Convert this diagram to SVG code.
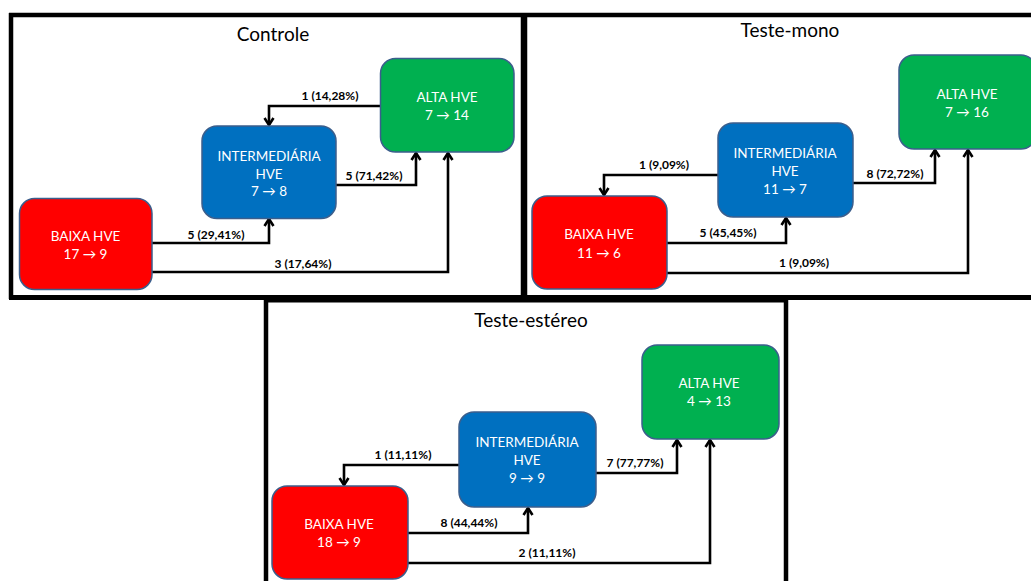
<svg xmlns="http://www.w3.org/2000/svg" width="1031" height="581" viewBox="0 0 1031 581">
<defs>
<marker id="arr" viewBox="0 0 12 12" refX="10" refY="6" markerWidth="12" markerHeight="12" markerUnits="userSpaceOnUse" orient="auto">
<path d="M3,1.5 L10,6 L3,10.5" fill="none" stroke="#000" stroke-width="2.6" stroke-linejoin="miter"/>
</marker>
</defs>
<style>
.frame{fill:none;stroke:#000}
.box{stroke:#3b5e8c;stroke-width:1.5}
.baixa{fill:#ff0000}
.inter{fill:#0070c0}
.alta{fill:#00b050}
.nt{font-family:Lato,"Liberation Sans",sans-serif;font-size:13.5px;fill:#fff;text-anchor:middle}
.title{font-family:Lato,"Liberation Sans",sans-serif;font-size:19px;fill:#000;text-anchor:middle}
.lbl{font-family:Lato,"Liberation Sans",sans-serif;font-size:12px;font-weight:bold;fill:#000;text-anchor:middle}
.con{fill:none;stroke:#000;stroke-width:2.6;marker-end:url(#arr)}
</style>
<rect width="1031" height="581" fill="#fff"/>
<g id="frames">
<path class="frame" d="M11,13 V299" stroke-width="4.5"/>
<path class="frame" d="M9,15 H1031" stroke-width="4.5"/>
<path class="frame" d="M9,297.5 H1031" stroke-width="5"/>
<path class="frame" d="M524,13 V300" stroke-width="6.5"/>
<path class="frame" d="M264,299.5 H788" stroke-width="6"/>
<path class="frame" d="M266,297 V581" stroke-width="4.5"/>
<path class="frame" d="M786,297 V581" stroke-width="4.5"/>
</g>
<g id="titles">
<text class="title" x="273" y="41">Controle</text>
<text class="title" x="790" y="37">Teste-mono</text>
<text class="title" x="531" y="327">Teste-estéreo</text>
</g>
<g id="connectors">
<path class="con" d="M380,106 H269 V125"/>
<path class="con" d="M336,185 H416 V153"/>
<path class="con" d="M152,243 H269 V219"/>
<path class="con" d="M152,272 H448 V153"/>
<path class="con" d="M718,175 H604 V195"/>
<path class="con" d="M853,183 H935 V150"/>
<path class="con" d="M667,243 H786 V218"/>
<path class="con" d="M667,273 H968 V150"/>
<path class="con" d="M459,465 H344 V485"/>
<path class="con" d="M596,473 H677 V440"/>
<path class="con" d="M408,533 H528 V508"/>
<path class="con" d="M408,563 H710 V440"/>
</g>
<g id="labels">
<text class="lbl" x="330" y="100">1 (14,28%)</text>
<text class="lbl" x="374" y="180">5 (71,42%)</text>
<text class="lbl" x="216" y="239">5 (29,41%)</text>
<text class="lbl" x="303" y="268">3 (17,64%)</text>
<text class="lbl" x="664" y="169">1 (9,09%)</text>
<text class="lbl" x="895" y="178">8 (72,72%)</text>
<text class="lbl" x="728" y="237">5 (45,45%)</text>
<text class="lbl" x="804" y="267">1 (9,09%)</text>
<text class="lbl" x="403" y="459">1 (11,11%)</text>
<text class="lbl" x="635" y="467">7 (77,77%)</text>
<text class="lbl" x="469" y="527">8 (44,44%)</text>
<text class="lbl" x="547" y="557">2 (11,11%)</text>
</g>
<g id="c-baixa">
<rect class="box baixa" x="19.5" y="198.5" width="132.5" height="91" rx="15"/>
<text class="nt" x="85.5" y="241">BAIXA HVE</text>
<text class="nt" x="85.5" y="259">17 → 9</text>
</g>
<g id="c-inter">
<rect class="box inter" x="202" y="126" width="134" height="92.5" rx="15"/>
<text class="nt" x="269" y="161">INTERMEDIÁRIA</text>
<text class="nt" x="269" y="178.5">HVE</text>
<text class="nt" x="269" y="196">7 → 8</text>
</g>
<g id="c-alta">
<rect class="box alta" x="380.5" y="58.5" width="133.5" height="93.5" rx="15"/>
<text class="nt" x="447" y="102">ALTA HVE</text>
<text class="nt" x="447" y="120">7 → 14</text>
</g>
<g id="m-baixa">
<rect class="box baixa" x="532" y="196" width="135" height="93" rx="15"/>
<text class="nt" x="599" y="239">BAIXA HVE</text>
<text class="nt" x="599" y="258">11 → 6</text>
</g>
<g id="m-inter">
<rect class="box inter" x="718" y="123" width="135" height="94" rx="15"/>
<text class="nt" x="785" y="158">INTERMEDIÁRIA</text>
<text class="nt" x="785" y="176">HVE</text>
<text class="nt" x="785" y="194">11 → 7</text>
</g>
<g id="m-alta">
<rect class="box alta" x="899" y="55" width="137" height="94" rx="15"/>
<text class="nt" x="967" y="99">ALTA HVE</text>
<text class="nt" x="967" y="117">7 → 16</text>
</g>
<g id="e-baixa">
<rect class="box baixa" x="272" y="486" width="136" height="93" rx="15"/>
<text class="nt" x="339" y="529">BAIXA HVE</text>
<text class="nt" x="339" y="547">18 → 9</text>
</g>
<g id="e-inter">
<rect class="box inter" x="459" y="412" width="137" height="95" rx="15"/>
<text class="nt" x="527" y="447">INTERMEDIÁRIA</text>
<text class="nt" x="527" y="465">HVE</text>
<text class="nt" x="527" y="483">9 → 9</text>
</g>
<g id="e-alta">
<rect class="box alta" x="642" y="345" width="137" height="94" rx="15"/>
<text class="nt" x="709" y="388">ALTA HVE</text>
<text class="nt" x="709" y="406">4 → 13</text>
</g>
</svg>
